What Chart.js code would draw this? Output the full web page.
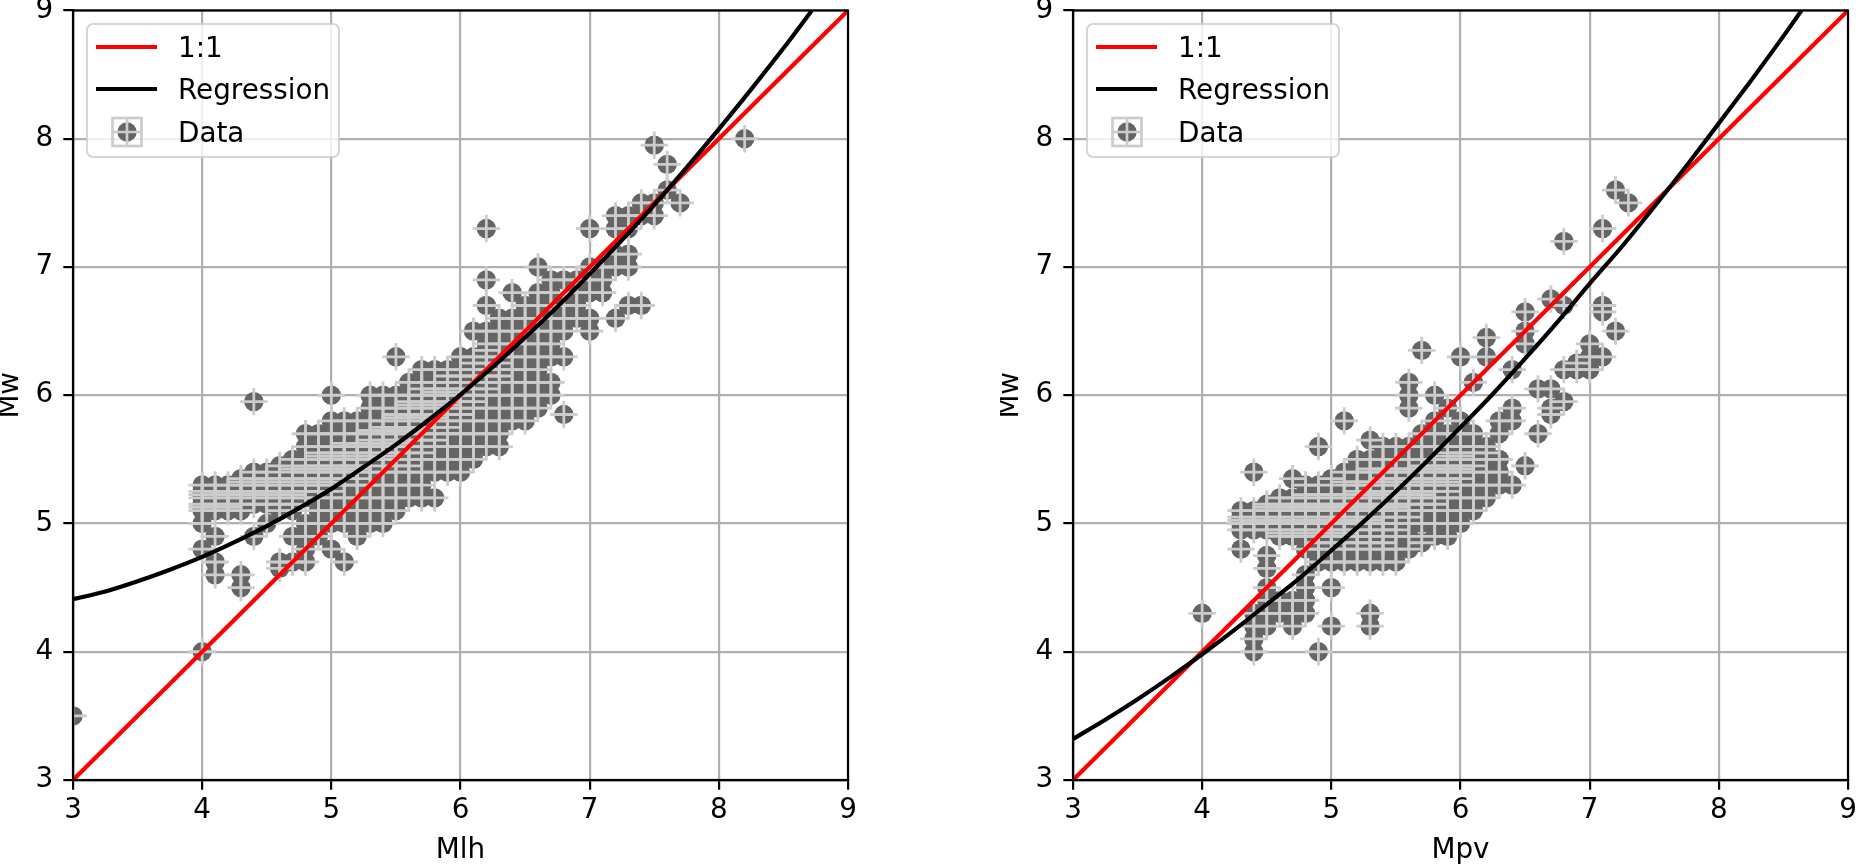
<!DOCTYPE html>
<html>
<head>
<meta charset="utf-8">
<script src="https://cdn.jsdelivr.net/npm/chart.js@4.4.1/dist/chart.umd.min.js"></script>
<style>
  html, body { margin: 0; padding: 0; background: #fff; }
  body { width: 1856px; height: 867px; position: relative; overflow: hidden; }
  canvas { position: absolute; top: 0; }
  #left { left: 0; }
  #right { left: 1000px; }
</style>
</head>
<body>
<canvas id="left" width="870" height="867"></canvas>
<canvas id="right" width="856" height="867"></canvas>
<script>
// axis ticks and legend text, same for both panels
const axisTicks = [3, 4, 5, 6, 7, 8, 9];
const legendLabels = ['1:1', 'Regression', 'Data'];
const oneToOne = [3, 9];

// left panel: Mlh columns and the Mw values seen in each column
const mlhX = [3.0, 4.0, 4.1, 4.2, 4.3, 4.4, 4.5, 4.6, 4.7, 4.8, 4.9, 5.0, 5.1, 5.2, 5.3, 5.4, 5.5, 5.6, 5.7, 5.8,
    5.9, 6.0, 6.1, 6.2, 6.3, 6.4, 6.5, 6.6, 6.7, 6.8, 6.9, 7.0, 7.1, 7.2, 7.3, 7.4, 7.5, 7.6, 7.7, 8.2];
const mlhMw = [
    [3.5],
    [4.0, 4.8, 5.0, 5.1, 5.125, 5.15, 5.2, 5.225, 5.25, 5.3],
    [4.6, 4.7, 4.9, 5.1, 5.15, 5.2, 5.225, 5.25, 5.3],
    [5.1, 5.125, 5.15, 5.2, 5.225, 5.25, 5.3],
    [4.5, 4.6, 5.1, 5.15, 5.2, 5.225, 5.25, 5.3, 5.325, 5.35],
    [4.9, 5.15, 5.2, 5.225, 5.25, 5.3, 5.325, 5.35, 5.4, 5.95],
    [5.0, 5.15, 5.2, 5.225, 5.25, 5.3, 5.325, 5.35, 5.4],
    [4.65, 4.7, 5.1, 5.15, 5.2, 5.225, 5.25, 5.3, 5.325, 5.35, 5.45],
    [4.7, 4.9, 5.1, 5.15, 5.2, 5.225, 5.25, 5.3, 5.325, 5.35, 5.4, 5.425, 5.5],
    [4.7, 4.8, 4.9, 5.0, 5.2, 5.25, 5.3, 5.325, 5.35, 5.4, 5.425, 5.45, 5.5, 5.6, 5.7],
    [4.9, 5.0, 5.1, 5.2, 5.25, 5.3, 5.325, 5.35, 5.4, 5.425, 5.45, 5.5, 5.525, 5.55, 5.6, 5.7],
    [4.8, 5.0, 5.1, 5.2, 5.25, 5.3, 5.325, 5.35, 5.4, 5.425, 5.45, 5.5, 5.525, 5.55, 5.6, 5.7, 5.8, 6.0],
    [4.7, 5.0, 5.1, 5.2, 5.3, 5.35, 5.4, 5.425, 5.45, 5.5, 5.525, 5.55, 5.6, 5.625, 5.7, 5.8],
    [4.9, 5.0, 5.1, 5.2, 5.3, 5.35, 5.4, 5.425, 5.45, 5.5, 5.525, 5.55, 5.6, 5.625, 5.7, 5.8],
    [5.0, 5.1, 5.2, 5.3, 5.4, 5.45, 5.5, 5.525, 5.55, 5.6, 5.625, 5.65, 5.7, 5.725, 5.8, 5.9, 6.0],
    [5.0, 5.1, 5.2, 5.3, 5.4, 5.5, 5.525, 5.55, 5.6, 5.625, 5.65, 5.7, 5.725, 5.75, 5.8, 5.9, 6.0],
    [5.1, 5.2, 5.3, 5.4, 5.45, 5.5, 5.55, 5.6, 5.625, 5.65, 5.7, 5.725, 5.75, 5.8, 5.825, 5.85, 5.9, 6.0, 6.3],
    [5.2, 5.3, 5.4, 5.45, 5.5, 5.55, 5.6, 5.65, 5.7, 5.725, 5.75, 5.8, 5.825, 5.85, 5.9, 5.925, 5.95, 6.0, 6.1],
    [5.2, 5.3, 5.4, 5.5, 5.55, 5.6, 5.65, 5.7, 5.75, 5.8, 5.825, 5.85, 5.9, 5.925, 5.95, 6.0, 6.05, 6.1, 6.2],
    [5.2, 5.4, 5.5, 5.6, 5.65, 5.7, 5.75, 5.8, 5.825, 5.85, 5.9, 5.925, 5.95, 6.0, 6.025, 6.05, 6.1, 6.2],
    [5.4, 5.5, 5.6, 5.7, 5.75, 5.8, 5.85, 5.9, 5.925, 5.95, 6.0, 6.025, 6.05, 6.1, 6.15, 6.2],
    [5.4, 5.5, 5.6, 5.7, 5.8, 5.85, 5.9, 5.95, 6.0, 6.05, 6.1, 6.15, 6.2, 6.3],
    [5.5, 5.6, 5.7, 5.8, 5.9, 5.95, 6.0, 6.05, 6.1, 6.15, 6.2, 6.25, 6.3, 6.5],
    [5.6, 5.7, 5.8, 5.9, 6.0, 6.05, 6.1, 6.15, 6.2, 6.25, 6.3, 6.35, 6.4, 6.5, 6.7, 6.9, 7.3],
    [5.6, 5.7, 5.8, 5.9, 6.0, 6.1, 6.15, 6.2, 6.25, 6.3, 6.4, 6.5, 6.6],
    [5.8, 5.9, 6.0, 6.1, 6.2, 6.3, 6.4, 6.5, 6.6, 6.8],
    [5.8, 5.9, 6.0, 6.1, 6.2, 6.3, 6.4, 6.5, 6.6, 6.7],
    [5.9, 6.0, 6.1, 6.2, 6.3, 6.4, 6.5, 6.6, 6.7, 6.8, 7.0],
    [6.0, 6.1, 6.3, 6.4, 6.5, 6.6, 6.7, 6.8, 6.9],
    [5.85, 6.3, 6.5, 6.6, 6.7, 6.9],
    [6.6, 6.7, 6.8, 6.9],
    [6.5, 6.6, 6.8, 6.9, 7.0, 7.3],
    [6.8, 6.9, 7.0],
    [6.6, 7.0, 7.1, 7.3, 7.4],
    [6.7, 7.0, 7.1, 7.3, 7.4],
    [6.7, 7.4, 7.5],
    [7.4, 7.5, 7.95],
    [7.6, 7.8],
    [7.5],
    [8.0]
];

// right panel: Mpv columns and their Mw values
const mpvX = [4.0, 4.3, 4.4, 4.5, 4.6, 4.7, 4.8, 4.9, 5.0, 5.1, 5.2, 5.3, 5.4, 5.5, 5.6, 5.7, 5.8, 5.9, 6.0,
    6.1, 6.2, 6.3, 6.4, 6.5, 6.6, 6.7, 6.8, 6.9, 7.0, 7.1, 7.2, 7.3];
const mpvMw = [
    [4.3],
    [4.8, 4.95, 5.0, 5.025, 5.05, 5.1],
    [4.0, 4.1, 4.2, 4.3, 4.95, 5.0, 5.025, 5.05, 5.1, 5.4],
    [4.2, 4.3, 4.4, 4.5, 4.65, 4.75, 4.95, 5.0, 5.025, 5.05, 5.1, 5.125, 5.15],
    [4.3, 4.4, 4.9, 4.925, 4.95, 5.0, 5.025, 5.05, 5.1, 5.125, 5.15, 5.2],
    [4.2, 4.3, 4.4, 4.9, 4.925, 4.95, 5.0, 5.025, 5.05, 5.1, 5.125, 5.15, 5.2, 5.35],
    [4.3, 4.4, 4.5, 4.6, 4.8, 4.9, 4.925, 4.95, 5.0, 5.025, 5.05, 5.1, 5.125, 5.15, 5.2, 5.225, 5.3],
    [4.0, 4.7, 4.8, 4.85, 4.9, 4.925, 4.95, 5.0, 5.025, 5.05, 5.1, 5.125, 5.15, 5.2, 5.225, 5.3, 5.6],
    [4.2, 4.5, 4.7, 4.8, 4.85, 4.9, 4.925, 4.95, 5.0, 5.025, 5.05, 5.1, 5.125, 5.15, 5.2, 5.225, 5.35],
    [4.7, 4.8, 4.85, 4.9, 4.925, 4.95, 5.0, 5.025, 5.05, 5.1, 5.125, 5.15, 5.2, 5.225, 5.3, 5.325, 5.4, 5.8],
    [4.7, 4.8, 4.85, 4.9, 4.95, 5.0, 5.025, 5.05, 5.1, 5.125, 5.15, 5.2, 5.225, 5.25, 5.3, 5.325, 5.4, 5.5],
    [4.2, 4.3, 4.7, 4.8, 4.85, 4.9, 4.95, 5.0, 5.025, 5.05, 5.1, 5.125, 5.15, 5.2, 5.225, 5.25, 5.3, 5.325, 5.4,
        5.425, 5.5, 5.65],
    [4.7, 4.8, 4.85, 4.9, 4.95, 5.0, 5.05, 5.1, 5.125, 5.15, 5.2, 5.225, 5.25, 5.3, 5.325, 5.35, 5.4, 5.425, 5.5,
        5.6],
    [4.7, 4.8, 4.9, 4.95, 5.0, 5.05, 5.1, 5.125, 5.15, 5.2, 5.225, 5.25, 5.3, 5.325, 5.35, 5.4, 5.425, 5.5, 5.6],
    [4.8, 4.9, 5.0, 5.05, 5.1, 5.15, 5.2, 5.225, 5.25, 5.3, 5.325, 5.35, 5.4, 5.425, 5.5, 5.6, 5.9, 6.0, 6.1],
    [4.85, 5.0, 5.1, 5.15, 5.2, 5.225, 5.25, 5.3, 5.325, 5.35, 5.4, 5.425, 5.45, 5.5, 5.6, 5.7, 6.35],
    [4.9, 5.0, 5.1, 5.15, 5.2, 5.25, 5.3, 5.325, 5.35, 5.4, 5.425, 5.45, 5.5, 5.6, 5.7, 5.8, 6.0],
    [4.9, 5.0, 5.1, 5.2, 5.25, 5.3, 5.325, 5.35, 5.4, 5.425, 5.45, 5.5, 5.525, 5.55, 5.6, 5.7, 5.9],
    [5.0, 5.1, 5.2, 5.3, 5.35, 5.4, 5.425, 5.45, 5.5, 5.525, 5.55, 5.6, 5.7, 5.8, 6.3],
    [5.1, 5.2, 5.3, 5.4, 5.45, 5.5, 5.55, 5.6, 5.7, 6.1],
    [5.2, 5.3, 5.4, 5.5, 5.55, 5.6, 6.3, 6.45],
    [5.3, 5.4, 5.5, 5.7, 5.8],
    [5.3, 5.8, 5.9, 6.2],
    [5.45, 6.4, 6.5, 6.65],
    [5.7, 6.05],
    [5.85, 5.9, 6.05, 6.75],
    [5.95, 6.2, 6.7, 7.2],
    [6.2, 6.25],
    [6.2, 6.3, 6.4],
    [6.3, 6.65, 6.7, 7.3],
    [6.5, 7.6],
    [7.5]
];

// regression curves, every quarter unit
const regMlhX = [3.0, 3.25, 3.5, 3.75, 4.0, 4.25, 4.5, 4.75, 5.0, 5.25, 5.5, 5.75, 6.0, 6.25, 6.5, 6.75,
    7.0, 7.25, 7.5, 7.75, 8.0, 8.25, 8.5, 8.72];
const regMlhY = [4.41, 4.47, 4.55, 4.64, 4.74, 4.855, 4.98, 5.12, 5.27, 5.44, 5.615, 5.805, 6.005, 6.22, 6.45, 6.69,
    6.945, 7.21, 7.485, 7.775, 8.075, 8.385, 8.705, 9.0];
const regMpvX = [3.0, 3.25, 3.5, 3.75, 4.0, 4.25, 4.5, 4.75, 5.0, 5.25, 5.5, 5.75, 6.0, 6.25, 6.5, 6.75,
    7.0, 7.25, 7.5, 7.75, 8.0, 8.25, 8.5, 8.64];
const regMpvY = [3.32, 3.47, 3.63, 3.80, 3.98, 4.17, 4.37, 4.57, 4.79, 5.015, 5.25, 5.495, 5.75, 6.01, 6.285, 6.57,
    6.87, 7.16, 7.47, 7.79, 8.12, 8.455, 8.80, 9.0];

Chart.defaults.font.family = 'DejaVu Sans';
Chart.defaults.color = '#000';

const FONT = 27.8;

function columnsToPoints(xs, cols) {
    const pts = [];
    xs.forEach((x, i) => cols[i].forEach(y => pts.push({x: x, y: y})));
    return pts;
}

function zipPoints(xs, ys) {
    return xs.map((x, i) => ({x: x, y: ys[i]}));
}

// box round the axes and the legend in the upper left corner
const framePlugin = {
    id: 'frame',
    afterDatasetsDraw(chart) {
        const {ctx, chartArea: a} = chart;
        ctx.save();
        ctx.strokeStyle = '#000';
        ctx.lineWidth = 2.2;
        ctx.strokeRect(a.left, a.top, a.right - a.left, a.bottom - a.top);
        ctx.restore();
    },
    afterDraw(chart) {
        const {ctx, chartArea: a} = chart;
        const bx = a.left + 14, by = a.top + 13.5;
        ctx.save();
        ctx.beginPath();
        ctx.roundRect(bx, by, 252, 133, 6);
        ctx.fillStyle = 'rgba(255,255,255,0.8)';
        ctx.fill();
        ctx.strokeStyle = 'rgba(204,204,204,0.8)';
        ctx.lineWidth = 2;
        ctx.stroke();

        const rowY = [a.top + 36.5, a.top + 78.5, a.top + 121.5];
        const lineColors = ['#ff0000', '#000000'];
        for (let i = 0; i < 2; i++) {
            ctx.beginPath();
            ctx.moveTo(a.left + 23, rowY[i]);
            ctx.lineTo(a.left + 84, rowY[i]);
            ctx.strokeStyle = lineColors[i];
            ctx.lineWidth = 4.2;
            ctx.stroke();
        }
        // data handle: dot with its error box
        const mx = a.left + 54, my = rowY[2];
        ctx.beginPath();
        ctx.arc(mx, my, 9.7, 0, Math.PI * 2);
        ctx.fillStyle = '#656565';
        ctx.fill();
        ctx.strokeStyle = '#cccccc';
        ctx.lineWidth = 2.7;
        ctx.strokeRect(mx - 14.5, my - 14, 29, 28);
        ctx.beginPath();
        ctx.moveTo(mx - 14.5, my); ctx.lineTo(mx + 14.5, my);
        ctx.moveTo(mx, my - 14); ctx.lineTo(mx, my + 14);
        ctx.stroke();

        ctx.fillStyle = '#000';
        ctx.font = FONT + 'px "DejaVu Sans"';
        ctx.textBaseline = 'alphabetic';
        legendLabels.forEach((t, i) => ctx.fillText(t, a.left + 105, rowY[i] + 10));
        ctx.restore();
    }
};

function makeChart(id, xTitle, xs, cols, regX, regY, padRight) {
    const scatter = columnsToPoints(xs, cols);
    const axisCommon = {
        type: 'linear',
        min: 3,
        max: 9,
        afterBuildTicks: s => { s.ticks = axisTicks.map(v => ({value: v})); },
        grid: {color: '#b0b0b0', lineWidth: 2.2, tickLength: 9.7, tickColor: '#000', tickWidth: 2.2},
        border: {color: '#000', width: 2.2}
    };
    return new Chart(document.getElementById(id), {
        type: 'scatter',
        data: {
            datasets: [
                {
                    label: '1:1',
                    data: zipPoints(oneToOne, oneToOne),
                    showLine: true,
                    borderColor: '#ff0000',
                    borderWidth: 4.2,
                    pointRadius: 0,
                    clip: 0,
                    order: 1
                },
                {
                    label: 'Regression',
                    data: zipPoints(regX, regY),
                    showLine: true,
                    cubicInterpolationMode: 'monotone',
                    borderColor: '#000000',
                    borderWidth: 4.2,
                    pointRadius: 0,
                    clip: 0,
                    order: 0
                },
                {
                    label: 'Data bars',
                    data: scatter,
                    pointStyle: 'cross',
                    pointRadius: 13.7,
                    borderColor: '#cccccc',
                    borderWidth: 2.8,
                    clip: 0,
                    order: 2
                },
                {
                    label: 'Data',
                    data: scatter,
                    pointStyle: 'circle',
                    pointRadius: 9.7,
                    backgroundColor: '#656565',
                    borderWidth: 0,
                    clip: 0,
                    order: 3
                }
            ]
        },
        options: {
            responsive: false,
            animation: false,
            devicePixelRatio: 1,
            events: [],
            layout: {autoPadding: false, padding: {top: 10.5, right: padRight, left: 0, bottom: 0}},
            plugins: {legend: {display: false}, tooltip: {enabled: false}},
            scales: {
                x: Object.assign({}, axisCommon, {
                    ticks: {font: {size: FONT}, color: '#000', padding: 4.5, maxRotation: 0},
                    title: {display: true, text: xTitle, font: {size: FONT, lineHeight: 1.2}, color: '#000', padding: 0},
                    afterFit: s => { s.height = 87; s.paddingLeft = 0; s.paddingRight = 0; }
                }),
                y: Object.assign({}, axisCommon, {
                    ticks: {font: {size: FONT}, color: '#000', padding: 10},
                    title: {display: true, text: 'Mw', font: {size: FONT, lineHeight: 0.75}, color: '#000', padding: 0},
                    afterFit: s => { s.width = 73; s.paddingTop = 0; s.paddingBottom = 0; }
                })
            }
        },
        plugins: [framePlugin]
    });
}

makeChart('left', 'Mlh', mlhX, mlhMw, regMlhX, regMlhY, 22);
makeChart('right', 'Mpv', mpvX, mpvMw, regMpvX, regMpvY, 8);
</script>
</body>
</html>
